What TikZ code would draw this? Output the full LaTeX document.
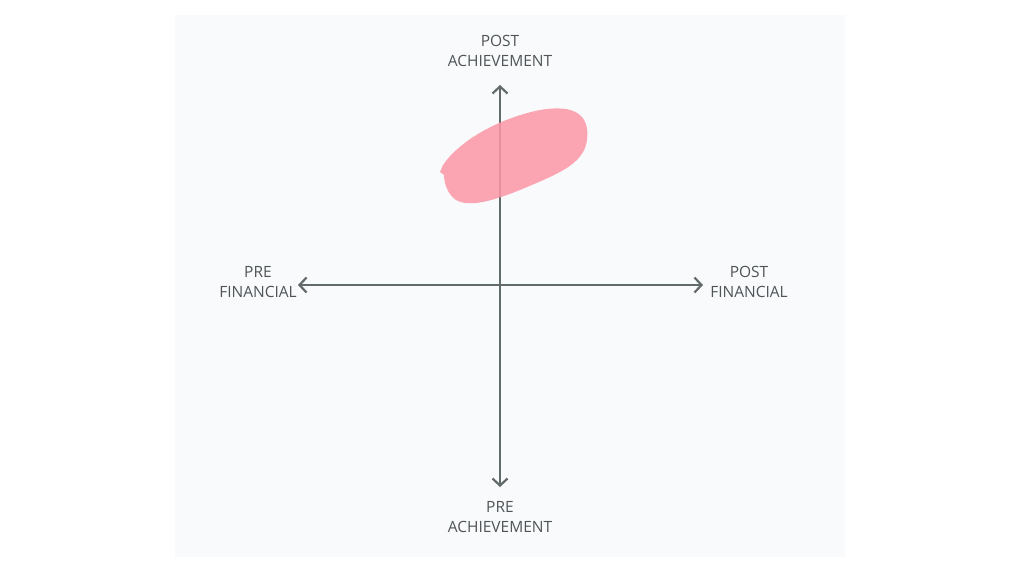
\documentclass[tikz,border=0pt]{standalone}
\usepackage{fontspec}
\setmainfont{Open Sans}
\usetikzlibrary{arrows.meta}
\definecolor{bg}{HTML}{F8FAFC}
\definecolor{axis}{HTML}{636B69}
\definecolor{txt}{HTML}{4F5557}
\definecolor{blob}{HTML}{FD97A6}
\tikzset{ax/.style={draw=axis,line width=2.5pt,-{Straight Barb[length=7pt,width=15pt,line width=2.2pt]}},
lbl/.style={text=txt,font=\fontsize{15.5}{19.5}\selectfont,align=center,inner sep=0pt}}
\begin{document}
\begin{tikzpicture}[x=1pt,y=-1pt]
\useasboundingbox (0,0) rectangle (1024,573);
\fill[bg] (175,15) rectangle (845,557);
\coordinate (c) at (500,285);
\coordinate (t) at (500,85);
\coordinate (b) at (500,487);
\coordinate (l) at (298,285);
\coordinate (r) at (703,285);
\draw[ax] (c) -- (t);
\draw[ax] (c) -- (b);
\draw[ax] (c) -- (l);
\draw[ax] (c) -- (r);
\fill[blob,opacity=0.85] (440,172) -- (443,165) .. controls (460,140) and (500,118) .. (540,110)
 .. controls (575,104) and (590,115) .. (587,140)
 .. controls (584,165) and (555,175) .. (520,190)
 .. controls (495,200) and (470,208) .. (456,200)
 .. controls (447,194) and (444,182) .. (444,175) -- cycle;
\node[lbl] (tl) at (500,51) {POST\\ACHIEVEMENT};
\node[lbl] (bl) at (500,517) {PRE\\ACHIEVEMENT};
\node[lbl] (ll) at (258,282) {PRE\\FINANCIAL};
\node[lbl] (rl) at (749,282) {POST\\FINANCIAL};
\end{tikzpicture}
\end{document}
